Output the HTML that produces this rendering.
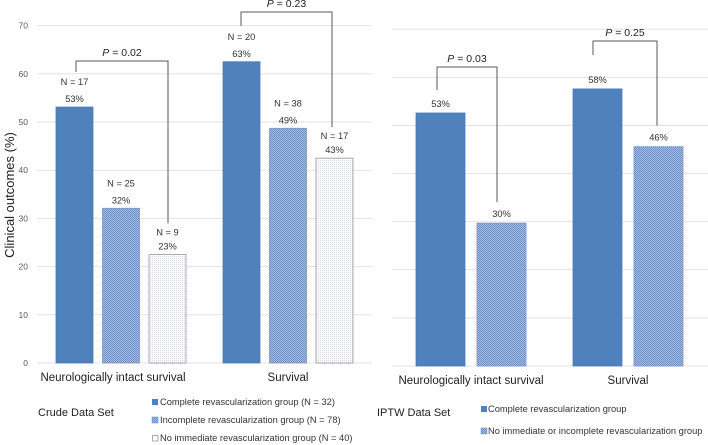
<!DOCTYPE html>
<html><head><meta charset="utf-8"><style>
html,body{margin:0;padding:0;background:#fff;}
svg{display:block;font-family:"Liberation Sans",Arial,sans-serif;}
</style></head><body>
<svg id="chart" width="708" height="445" viewBox="0 0 708 445" xmlns="http://www.w3.org/2000/svg">
<defs>
<pattern id="checker" width="2" height="2" patternUnits="userSpaceOnUse">
<rect width="2" height="2" fill="#a9bcdd"/><rect width="1" height="1" fill="#6f8fc4"/><rect x="1" y="1" width="1" height="1" fill="#6f8fc4"/>
</pattern>
<pattern id="dots" width="2" height="2" patternUnits="userSpaceOnUse">
<rect width="2" height="2" fill="#fbfbfd"/><rect width="1" height="1" fill="#d3d7df"/>
</pattern>
</defs>
<g id="grid"></g>
<g id="bars"></g>
<g id="labels"></g>
<g id="brackets" stroke="#595959" stroke-width="1" fill="none"></g>
<text x="14" y="195" font-size="13" fill="#222" text-anchor="middle" transform="rotate(-90 14 195)">Clinical outcomes (%)</text>
<text x="113" y="381" font-size="11.5" fill="#222" text-anchor="middle">Neurologically intact survival</text>
<text x="288" y="381" font-size="11.5" fill="#222" text-anchor="middle">Survival</text>
<text x="471" y="384" font-size="11.5" fill="#222" text-anchor="middle">Neurologically intact survival</text>
<text x="628" y="384" font-size="11.5" fill="#222" text-anchor="middle">Survival</text>
<text x="38" y="416" font-size="11" fill="#222">Crude Data Set</text>
<g font-size="9.3" fill="#333">
<rect x="152" y="399" width="6" height="6" fill="#4f81bd"/>
<text x="160" y="405">Complete revascularization group (N = 32)</text>
<rect x="152" y="417" width="6" height="6" fill="url(#checker)" stroke="#6f8fc4" stroke-width="0.5"/>
<text x="160" y="423">Incomplete revascularization group (N = 78)</text>
<rect x="152.5" y="435.5" width="5.5" height="5.5" fill="#fff" stroke="#777" stroke-width="0.6"/>
<text x="160" y="441">No immediate revascularization group (N = 40)</text>
</g>
<text x="377" y="416" font-size="11" fill="#222">IPTW Data Set</text>
<g font-size="9.3" fill="#333">
<rect x="481" y="406" width="6" height="6" fill="#4f81bd"/>
<text x="488" y="412">Complete revascularization group</text>
<rect x="481" y="428" width="6" height="6" fill="url(#checker)" stroke="#6f8fc4" stroke-width="0.5"/>
<text x="488" y="434">No immediate or incomplete revascularization group</text>
</g>
</svg>
<script>
const yTicks = [0, 10, 20, 30, 40, 50, 60, 70];
const crudeCategories = ["Neurologically intact survival", "Survival"];
const crudeComplete = [53.1, 62.5];
const crudeIncomplete = [32.1, 48.7];
const crudeNone = [22.5, 42.5];
const crudeCompleteN = [17, 20];
const crudeIncompleteN = [25, 38];
const crudeNoneN = [9, 17];
const crudeCompleteLbl = ["53%", "63%"];
const crudeIncompleteLbl = ["32%", "49%"];
const crudeNoneLbl = ["23%", "43%"];
const iptwComplete = [52.6, 57.6];
const iptwOther = [29.7, 45.6];
const iptwCompleteLbl = ["53%", "58%"];
const iptwOtherLbl = ["30%", "46%"];
const crudePValues = ["0.02", "0.23"];
const iptwPValues = ["0.03", "0.25"];

const NS = "http://www.w3.org/2000/svg";
function mk(parent, tag, attrs, text) {
  const e = document.createElementNS(NS, tag);
  for (const k in attrs) e.setAttribute(k, attrs[k]);
  if (text !== undefined) e.textContent = text;
  document.getElementById(parent).appendChild(e);
  return e;
}
const yL = v => 363 - v * 4.82;
const yR = v => 366 - v * 4.81;

// grid
yTicks.forEach(t => {
  let g = mk("grid", "line", {x1: 37, x2: 372, y1: yL(t), y2: yL(t), stroke: "#e3e3e3", "stroke-width": 1});
  
  
  let tl = mk("labels", "text", {x: 28, y: yL(t) + 3, "font-size": 8.5, fill: "#595959", "text-anchor": "end"}, String(t));
  
  
  let g2 = mk("grid", "line", {x1: 392, x2: 708, y1: yR(t), y2: yR(t), stroke: "#e3e3e3", "stroke-width": 1});
  
  
});

const groupL = [56, 223], bw = 37, gap = 46.5;
function bar(x, w, top, base, fill, stroke, name) {
  const r = mk("bars", "rect", {x: x, y: top, width: w, height: base - top, fill: fill, stroke: stroke, "stroke-width": 0.8});
  
  
}
function lbl(x, y, s, name) {
  const t = mk("labels", "text", {x: x, y: y, "font-size": 9.3, fill: "#333", "text-anchor": "middle"}, s);
  
  
}
crudeCategories.forEach((c, i) => {
  const series = [[crudeComplete, crudeCompleteN, crudeCompleteLbl, "#4f81bd", "#4a7ab3"], [crudeIncomplete, crudeIncompleteN, crudeIncompleteLbl, "url(#checker)", "#7d96c4"], [crudeNone, crudeNoneN, crudeNoneLbl, "url(#dots)", "#9a9a9a"]];
  series.forEach((s, j) => {
    const x = groupL[i] + j * gap, top = yL(s[0][i]);
    bar(x, bw, top, yL(0), s[3], s[4], 'bar-crude');
    const nGap = j === 2 ? 14 : 17;
    lbl(x + bw / 2, top - 5, s[2][i], 'value-label');
    lbl(x + bw / 2, top - 5 - nGap, "N = " + s[1][i], 'n-label');
  });
});
const groupR = [416, 573], bwR = 49, gapR = 61;
[0, 1].forEach(i => {
  [[iptwComplete, iptwCompleteLbl, "#4f81bd", "#4a7ab3"], [iptwOther, iptwOtherLbl, "url(#checker)", "#7d96c4"]].forEach((s, j) => {
    const x = groupR[i] + j * gapR, top = yR(s[0][i]);
    bar(x, bwR, top, yR(0), s[2], s[3], 'bar-iptw');
    lbl(x + bwR / 2, top - 6, s[1][i], 'value-label');
  });
});

// brackets
function bracket(x1, x2, yTop, y1, y2, p, name) {
  const pth = mk("brackets", "path", {d: `M${x1},${y1} V${yTop} H${x2} V${y2}`});
  
  
  const t = mk("labels", "text", {x: (x1 + x2) / 2, y: yTop - 5, "font-size": 10.5, fill: "#222", "text-anchor": "middle"});
  
  
  const ti = document.createElementNS(NS, "tspan"); ti.setAttribute("font-style", "italic"); ti.textContent = "P";
  t.appendChild(ti); t.appendChild(document.createTextNode(" = " + p));
}
bracket(76, 168, 61, 72, yL(crudeNone[0]) - 31, crudePValues[0], 'p-bracket-crude-nis');
bracket(241, 332, 12, 26, yL(crudeNone[1]) - 31, crudePValues[1], 'p-bracket-crude-survival');
bracket(437, 497, 67, 90, yR(iptwOther[0]) - 21, iptwPValues[0], 'p-bracket-iptw-nis');
bracket(593, 657, 41, 55, yR(iptwOther[1]) - 21, iptwPValues[1], 'p-bracket-iptw-survival');
</script>
</body></html>
